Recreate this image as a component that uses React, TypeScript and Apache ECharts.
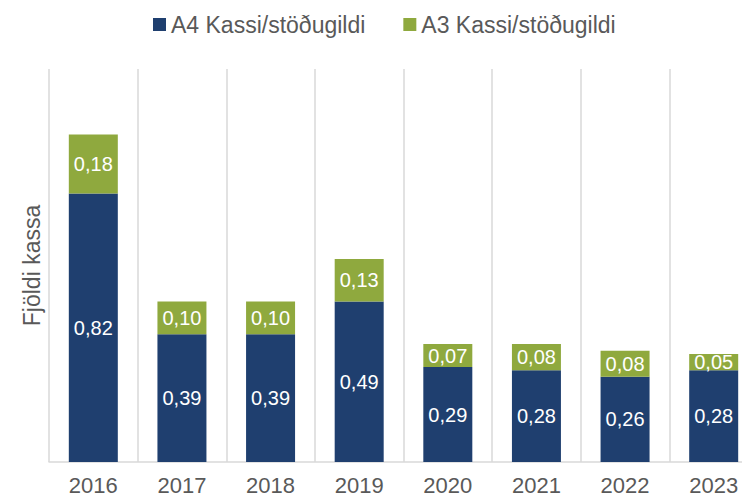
import React, { useEffect, useRef } from "react";
import * as echarts from "echarts";

const categories = ["2016", "2017", "2018", "2019", "2020", "2021", "2022", "2023"];
const a4Values = [0.82, 0.39, 0.39, 0.49, 0.29, 0.28, 0.26, 0.28];
const a3Values = [0.18, 0.1, 0.1, 0.13, 0.07, 0.08, 0.08, 0.05];
const seriesNames = ["A4 Kassi/stöðugildi", "A3 Kassi/stöðugildi"];
const yAxisName = "Fjöldi kassa";

const BLUE = "#1F3F6F";
const GREEN = "#8FA93E";
const TEXT = "#595959";
const GRID = "#D9D9D9";
const FONT = "'Liberation Sans', Arial, sans-serif";

const fmt = (p: any) => Number(p.value).toFixed(2).replace(".", ",");

export default function App() {
  const ref = useRef<HTMLDivElement>(null);
  useEffect(() => {
    if (!ref.current) return;
    const chart = echarts.init(ref.current, undefined, { renderer: "svg" });
    const label = {
      show: true,
      position: "inside",
      color: "#FFFFFF",
      fontSize: 20,
      fontFamily: FONT,
      formatter: fmt,
    };
    chart.setOption({
      animation: false,
      textStyle: { fontFamily: FONT },
      legend: {
        data: seriesNames,
        left: 148,
        top: 8,
        icon: "rect",
        itemWidth: 13,
        itemHeight: 13,
        itemGap: 38,
        textStyle: { color: TEXT, fontSize: 23, fontFamily: FONT },
      },
      grid: { left: 49, right: 2, top: 69, bottom: 38, containLabel: false },
      xAxis: {
        type: "category",
        data: categories,
        boundaryGap: true,
        axisLine: { show: true, lineStyle: { color: GRID, width: 1.5 } },
        axisTick: { show: false },
        axisLabel: { color: TEXT, fontSize: 22, fontFamily: FONT, margin: 12 },
        splitLine: { show: true, interval: 0, lineStyle: { color: GRID, width: 1.5 } },
      },
      yAxis: {
        type: "value",
        min: 0,
        max: 1.2,
        name: yAxisName,
        nameLocation: "middle",
        nameGap: 6,
        nameTextStyle: { color: TEXT, fontSize: 23, fontFamily: FONT },
        axisLine: { show: false },
        axisTick: { show: false },
        axisLabel: { show: false },
        splitLine: { show: false },
      },
      series: [
        {
          name: seriesNames[0],
          type: "bar",
          stack: "total",
          data: a4Values,
          barWidth: 49,
          itemStyle: { color: BLUE },
          label,
        },
        {
          name: seriesNames[1],
          type: "bar",
          stack: "total",
          data: a3Values,
          barWidth: 49,
          itemStyle: { color: GREEN },
          label,
        },
      ],
    });
    return () => chart.dispose();
  }, []);
  return (
    <div
      style={{ position: "absolute", left: 0, top: 0, width: 742, height: 500, background: "#fff", overflow: "hidden" }}
    >
      <div ref={ref} style={{ width: 760, height: 500 }} />
    </div>
  );
}
